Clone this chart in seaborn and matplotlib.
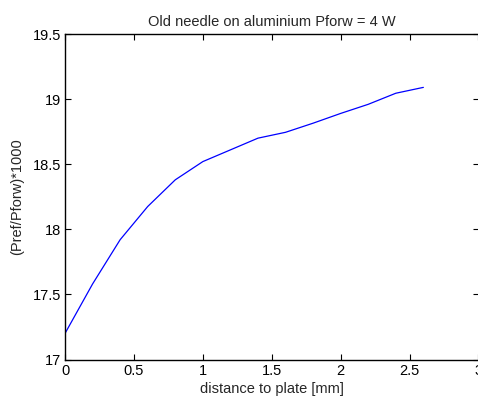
import numpy as np
import pandas as pd
import matplotlib
matplotlib.use("Agg")
import matplotlib.pyplot as plt
import seaborn as sns

# values
distance = [0.0, 0.2, 0.4, 0.6, 0.8, 1.0, 1.2, 1.4, 1.6, 1.8, 2.0, 2.2, 2.4, 2.6]
ratio = [17.20, 17.58, 17.92, 18.175, 18.38, 18.52, 18.61, 18.70, 18.745, 18.815, 18.89, 18.96, 19.045, 19.09]
xticks = [0, 0.5, 1, 1.5, 2, 2.5, 3]
yticks = [17, 17.5, 18, 18.5, 19, 19.5]

sns.set_style("ticks")
plt.rcParams['font.family'] = ['Liberation Sans', 'DejaVu Sans']

df = pd.DataFrame({'distance': distance, 'ratio': ratio})

fig = plt.figure(figsize=(4.78, 4.0), dpi=100)
ax = fig.add_axes([65 / 478, 1 - 359.5 / 400, 413.5 / 478, 325.5 / 400])

sns.lineplot(data=df, x='distance', y='ratio', color='#0000ff', linewidth=0.9, ax=ax)

ax.set_xlim(0, 3)
ax.set_ylim(17, 19.5)
ax.set_xticks(xticks)
ax.set_xticklabels(['0', '0.5', '1', '1.5', '2', '2.5', '3'])
ax.set_yticks(yticks)
ax.set_yticklabels(['17', '17.5', '18', '18.5', '19', '19.5'])
ax.tick_params(direction='in', length=4, width=0.8, top=True, right=True,
               labelsize=10.5, colors='black', pad=3)
for s in ax.spines.values():
    s.set_visible(True)
    s.set_linewidth(1.0)
    s.set_color('black')
# right edge of the box falls just outside the image in the reference
ax.spines['right'].set_visible(False)

ax.set_xlabel('distance to plate [mm]', fontsize=10.5, labelpad=3)
ax.set_ylabel('(Pref/Pforw)*1000', fontsize=10.5, labelpad=6)
ax.set_title('Old needle on aluminium Pforw = 4 W', fontsize=10.5, pad=6)

fig.savefig('out.png', dpi=100)
